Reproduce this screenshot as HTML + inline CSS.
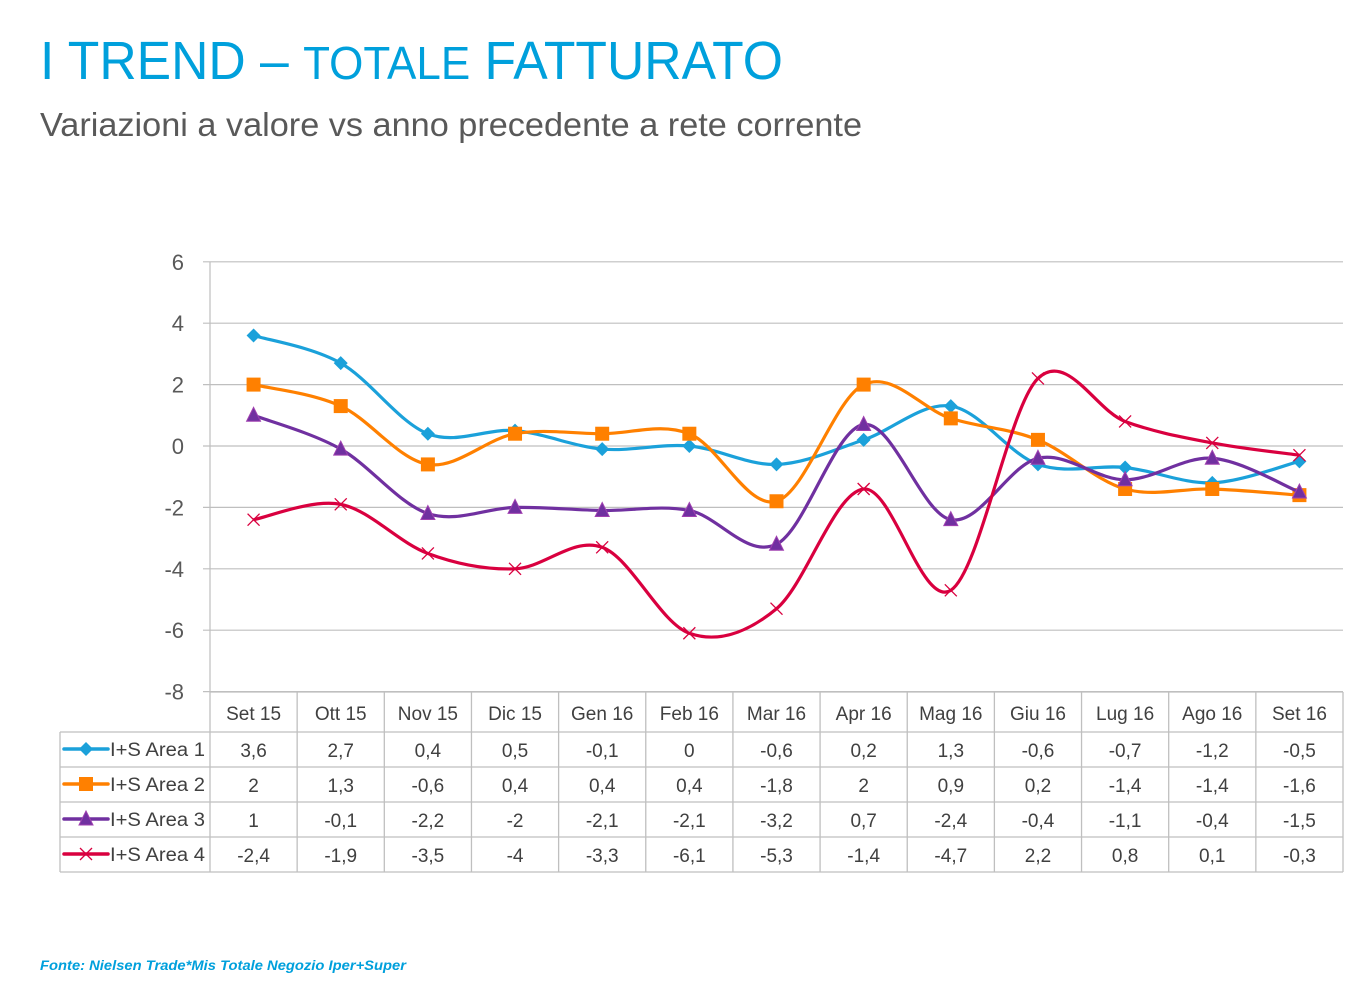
<!DOCTYPE html>
<html><head><meta charset="utf-8"><style>
html,body{margin:0;padding:0;background:#fff}
svg{display:block;font-family:"Liberation Sans",sans-serif}
</style></head><body>
<svg id="s" width="1367" height="996" viewBox="0 0 1367 996" xmlns="http://www.w3.org/2000/svg">
<text x="40" y="79" fill="#00A0DC" font-size="54" textLength="743" lengthAdjust="spacingAndGlyphs">I TREND – <tspan font-size="46">TOTALE</tspan> FATTURATO</text>
<text x="40" y="136" fill="#595959" font-size="33" textLength="822" lengthAdjust="spacingAndGlyphs">Variazioni a valore vs anno precedente a rete corrente</text>
<g id="grid" stroke="#BFBFBF" stroke-width="1.2"></g>
<g id="ylab" fill="#595959" font-size="22" text-anchor="end"></g>
<g id="tbl" stroke="#BFBFBF" stroke-width="1.3" fill="none"></g>
<g id="tt" fill="#404040" font-size="19" text-anchor="middle"></g>
<g id="series"></g>
<text x="40" y="970" fill="#00A0DC" font-size="13.5" font-style="italic" font-weight="bold" textLength="366" lengthAdjust="spacingAndGlyphs">Fonte: Nielsen Trade*Mis Totale Negozio  Iper+Super</text>
</svg>
<script>
var NS="http://www.w3.org/2000/svg";
function el(p,t,a,txt){var e=document.createElementNS(NS,t);for(var k in a)e.setAttribute(k,a[k]);if(txt!==undefined)e.textContent=txt;document.getElementById(p).appendChild(e);return e;}
var X0=210,X1=1343,CW=(X1-X0)/13;
function Y(v){return 446-v*30.7;}
for(var v=6;v>=-8;v-=2){el("grid","line",{x1:203,x2:X1,y1:Y(v),y2:Y(v)});el("ylab","text",{x:184,y:Y(v)+8},String(v));}
el("grid","line",{x1:X0,x2:X0,y1:Y(6),y2:Y(-8)});
var cats=["Set 15","Ott 15","Nov 15","Dic 15","Gen 16","Feb 16","Mar 16","Apr 16","Mag 16","Giu 16","Lug 16","Ago 16","Set 16"];
var rows=[732,767,802,837,872];
// table lines
el("tbl","line",{x1:X0,x2:X1,y1:692,y2:692});
for(var i=0;i<rows.length;i++)el("tbl","line",{x1:60,x2:X1,y1:rows[i],y2:rows[i]});
el("tbl","line",{x1:60,x2:60,y1:732,y2:872});
for(var c=0;c<=13;c++){var x=X0+c*CW;el("tbl","line",{x1:x,x2:x,y1:692,y2:872});}
var data=[
[3.6,2.7,0.4,0.5,-0.1,0,-0.6,0.2,1.3,-0.6,-0.7,-1.2,-0.5],
[2,1.3,-0.6,0.4,0.4,0.4,-1.8,2,0.9,0.2,-1.4,-1.4,-1.6],
[1,-0.1,-2.2,-2,-2.1,-2.1,-3.2,0.7,-2.4,-0.4,-1.1,-0.4,-1.5],
[-2.4,-1.9,-3.5,-4,-3.3,-6.1,-5.3,-1.4,-4.7,2.2,0.8,0.1,-0.3]];
var cols=["#1BA1DA","#FF8000","#7030A0","#D9003F"];
for(var c=0;c<13;c++){var cx=X0+CW*(c+0.5);el("tt","text",{x:cx,y:720},cats[c]);
 for(var r=0;r<4;r++)el("tt","text",{x:cx,y:rows[r]+25},String(data[r][c]).replace(".",","));}
function marker(r,x,y,g){var col=cols[r];
 if(r==0)el(g,"path",{d:"M"+x+" "+(y-7)+"L"+(x+7)+" "+y+"L"+x+" "+(y+7)+"L"+(x-7)+" "+y+"Z",fill:col});
 else if(r==1)el(g,"rect",{x:x-7,y:y-7,width:14,height:14,fill:col});
 else if(r==2)el(g,"path",{d:"M"+x+" "+(y-8)+"L"+(x+7)+" "+(y+6)+"L"+(x-7)+" "+(y+6)+"Z",fill:col,stroke:"#A040B0","stroke-width":1});
 else el(g,"path",{d:"M"+(x-6)+" "+(y-6)+"L"+(x+6)+" "+(y+6)+"M"+(x+6)+" "+(y-6)+"L"+(x-6)+" "+(y+6),stroke:col,"stroke-width":1.3,fill:"none"});}
for(var r=0;r<4;r++){
 var p=data[r].map(function(v,i){return [X0+CW*(i+0.5),Y(v)];});
 var d="M"+p[0][0]+" "+p[0][1];
 for(var i=0;i<p.length-1;i++){var p0=p[i>0?i-1:i],p1=p[i],p2=p[i+1],p3=p[i+2<p.length?i+2:i+1];
  var c1=[p1[0]+(p2[0]-p0[0])/6,p1[1]+(p2[1]-p0[1])/6],c2=[p2[0]-(p3[0]-p1[0])/6,p2[1]-(p3[1]-p1[1])/6];
  d+="C"+c1[0]+" "+c1[1]+" "+c2[0]+" "+c2[1]+" "+p2[0]+" "+p2[1];}
 el("series","path",{d:d,fill:"none",stroke:cols[r],"stroke-width":3.2,"stroke-linejoin":"round"});
 for(var i=0;i<p.length;i++)marker(r,p[i][0],p[i][1],"series");
 // legend
 var ly=rows[r]+17;
 el("series","line",{x1:64,x2:108,y1:ly,y2:ly,stroke:cols[r],"stroke-width":3.5,"stroke-linecap":"round"});
 marker(r,86,ly,"series");
 el("series","text",{x:110,y:ly+7,fill:"#404040","font-size":19,textLength:95,lengthAdjust:"spacingAndGlyphs"},"I+S Area "+(r+1));
}
</script>
</body></html>
